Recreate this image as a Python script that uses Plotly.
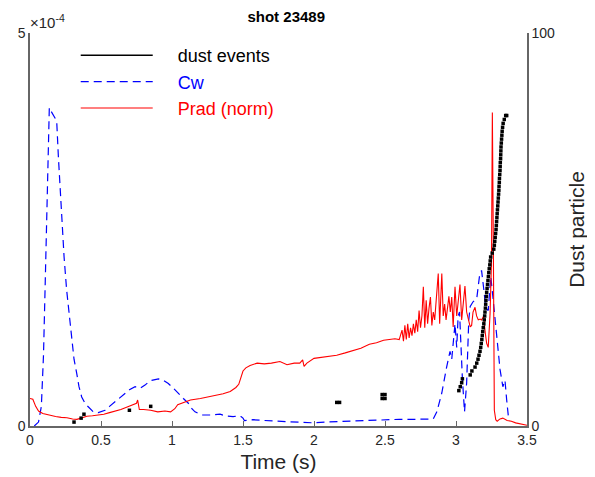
import numpy as np
import plotly.graph_objects as go

# Prad (norm), left axis, values in units of 1e-4
prad_t = [0.00, 0.02, 0.04, 0.06, 0.09, 0.13, 0.18, 0.22, 0.26, 0.30, 0.33, 0.36,
          0.40, 0.44, 0.48, 0.52, 0.56, 0.60, 0.64, 0.68, 0.72, 0.75, 0.758, 0.77,
          0.80, 0.85, 0.90, 0.95, 0.99, 1.02, 1.04, 1.08, 1.13, 1.20, 1.26, 1.31,
          1.36, 1.41, 1.45, 1.47, 1.49, 1.50, 1.52, 1.55, 1.60, 1.65, 1.70, 1.76,
          1.81, 1.86, 1.90, 1.92, 1.93, 1.95, 2.00, 2.05, 2.10, 2.16, 2.22, 2.28,
          2.33, 2.39, 2.44, 2.49, 2.53, 2.57, 2.60, 2.62, 2.63, 2.64, 2.65, 2.66,
          2.67, 2.68, 2.69, 2.70, 2.71, 2.72, 2.73, 2.74, 2.75, 2.76, 2.77, 2.78,
          2.79, 2.80, 2.81, 2.82, 2.83, 2.84, 2.85, 2.86, 2.875, 2.885, 2.90, 2.91,
          2.92, 2.93, 2.95, 2.96, 2.97, 2.98, 2.993, 3.005, 3.015, 3.028, 3.04, 3.05,
          3.063, 3.075, 3.087, 3.10, 3.11, 3.12, 3.134, 3.145, 3.157, 3.17, 3.18, 3.195,
          3.205, 3.216, 3.227, 3.235, 3.24, 3.25, 3.256, 3.263, 3.27, 3.28, 3.29, 3.31,
          3.33, 3.36, 3.39, 3.42, 3.45, 3.47, 3.50]
prad_v = [0.35, 0.34, 0.25, 0.19, 0.16, 0.14, 0.12, 0.11, 0.105, 0.09, 0.085, 0.10,
          0.125, 0.13, 0.14, 0.15, 0.17, 0.19, 0.21, 0.24, 0.27, 0.29, 0.33, 0.21,
          0.21, 0.20, 0.18, 0.19, 0.18, 0.22, 0.27, 0.30, 0.33, 0.35, 0.37, 0.39,
          0.41, 0.44, 0.49, 0.53, 0.63, 0.70, 0.74, 0.77, 0.80, 0.79, 0.80, 0.82,
          0.78, 0.80, 0.80, 0.84, 0.76, 0.80, 0.86, 0.87, 0.88, 0.90, 0.93, 0.96,
          0.99, 1.04, 1.06, 1.09, 1.10, 1.11, 1.10, 1.22, 1.08, 1.28, 1.10, 1.30,
          1.12, 1.25, 1.15, 1.30, 1.18, 1.35, 1.20, 1.47, 1.25, 1.40, 1.77, 1.25,
          1.60, 1.30, 1.50, 1.64, 1.28, 1.45, 1.35, 1.60, 1.94, 1.30, 1.94, 1.40,
          1.55, 1.35, 1.65, 1.45, 1.64, 1.26, 1.77, 1.40, 1.60, 1.80, 1.35, 1.55,
          1.78, 1.45, 1.35, 1.26, 1.28, 1.45, 1.51, 1.40, 1.35, 1.36, 1.35, 1.40,
          1.20, 1.05, 1.00, 1.20, 1.43, 2.10, 3.99, 2.28, 0.20, 0.08, 0.06, 0.09,
          0.10, 0.07, 0.06, 0.04, 0.03, 0.02, 0.01]

# Cw, left axis, units of 1e-4
cw_t = [0.03, 0.06, 0.08, 0.095, 0.106, 0.115, 0.125, 0.132, 0.136, 0.15, 0.164, 0.188,
        0.20, 0.212, 0.223, 0.24, 0.258, 0.276, 0.294, 0.31, 0.329, 0.345, 0.364, 0.39,
        0.41, 0.446, 0.481, 0.528, 0.56, 0.599, 0.63, 0.669, 0.70, 0.74, 0.775, 0.81,
        0.835, 0.857, 0.904, 0.94, 0.974, 1.01, 1.044, 1.08, 1.115, 1.14, 1.162, 1.21,
        1.28, 1.338, 1.373, 1.43, 1.479, 1.50, 1.51, 1.57, 1.65, 1.73, 1.81, 1.90,
        1.995, 2.08, 2.16, 2.25, 2.35, 2.43, 2.51, 2.60, 2.70, 2.75, 2.84, 2.865,
        2.90, 2.934, 2.958, 2.97, 2.98, 2.993, 3.005, 3.015, 3.025, 3.035, 3.045, 3.06,
        3.075, 3.09, 3.10, 3.12, 3.146, 3.165, 3.18, 3.195, 3.21, 3.227, 3.245, 3.26,
        3.286, 3.31, 3.33, 3.345, 3.357, 3.364, 3.37]
cw_v = [0.0, 0.05, 0.25, 0.9, 1.73, 2.4, 3.0, 3.6, 4.05, 4.0, 3.95, 3.88,
        3.42, 3.0, 2.58, 2.15, 1.73, 1.4, 1.09, 0.85, 0.67, 0.5, 0.37, 0.28,
        0.245, 0.18, 0.17, 0.20, 0.25, 0.31, 0.36, 0.41, 0.46, 0.50, 0.48, 0.52,
        0.56, 0.58, 0.60, 0.58, 0.54, 0.48, 0.41, 0.35, 0.29, 0.22, 0.18, 0.14,
        0.14, 0.15, 0.13, 0.12, 0.13, 0.10, 0.07, 0.08, 0.07, 0.06, 0.055, 0.05,
        0.04, 0.05, 0.055, 0.06, 0.067, 0.075, 0.085, 0.085, 0.085, 0.09, 0.09, 0.18,
        0.42, 0.75, 0.95, 0.85, 1.10, 1.30, 1.0, 1.40, 1.45, 1.00, 0.60, 0.18,
        0.55, 1.35, 1.52, 1.58, 1.62, 1.90, 1.98, 1.75, 1.50, 1.47, 1.90, 1.64,
        1.18, 0.72, 0.50, 0.58, 0.33, 0.16, 0.10]

# dust events (cumulative count), right axis
dust_t = [0.31, 0.36, 0.38, 0.70, 0.85, 2.16, 2.18, 2.48, 2.50, 2.48, 2.50,
          3.020, 3.030, 3.040, 3.045, 3.100, 3.112, 3.134, 3.146, 3.155, 3.162,
          3.169, 3.174, 3.178, 3.182, 3.185, 3.188, 3.192, 3.196, 3.199, 3.202,
          3.204, 3.207, 3.209, 3.211, 3.214, 3.216, 3.219, 3.222, 3.225, 3.228,
          3.231, 3.234, 3.238, 3.241, 3.244, 3.255, 3.266, 3.270, 3.273, 3.276,
          3.279, 3.282, 3.284, 3.286, 3.288, 3.290, 3.292, 3.294, 3.296, 3.298,
          3.300, 3.302, 3.303, 3.305, 3.306, 3.308, 3.310, 3.311, 3.312, 3.314,
          3.315, 3.316, 3.317, 3.319, 3.321, 3.323, 3.325, 3.328, 3.332, 3.340,
          3.350, 3.357]
dust_n = [1, 2, 3, 4, 5, 6, 6, 7, 7, 8, 8,
          9, 10, 11, 12, 13, 14, 15, 16, 17, 18,
          19, 20, 21, 22, 23, 24, 25, 26, 27, 28,
          29, 30, 31, 32, 33, 34, 35, 36, 37, 38,
          39, 40, 41, 42, 43, 44, 45, 46, 47, 48,
          49, 50, 51, 52, 53, 54, 55, 56, 57, 58,
          59, 60, 61, 62, 63, 64, 65, 66, 67, 68,
          69, 70, 71, 72, 73, 74, 75, 76, 77, 78,
          79, 79]

x_ticks = [0, 0.5, 1, 1.5, 2, 2.5, 3, 3.5]
x_labels = ["0", "0.5", "1", "1.5", "2", "2.5", "3", "3.5"]

FONT = "Liberation Sans, Arial, sans-serif"
AXIS_GREY = "#666666"
TEXT_GREY = "#262626"
pad = "&nbsp;" * 4

fig = go.Figure()

# legend entry for the dust markers (drawn as a line like the original)
fig.add_trace(go.Scatter(x=[None], y=[None], mode="lines", name=pad + "dust events",
                         line=dict(color="black", width=1.5), legendgroup="a"))
fig.add_trace(go.Scatter(x=dust_t, y=dust_n, mode="markers", yaxis="y2", showlegend=False,
                         marker=dict(symbol="square", size=3.5, color="black",
                                     line=dict(width=0))))
fig.add_trace(go.Scatter(x=cw_t, y=np.array(cw_v) * 1e-4, mode="lines",
                         name=pad + "<span style='color:#0000ff'>Cw</span>",
                         line=dict(color="#0000ff", width=1.2, dash="8px,5px"),
                         legendgroup="b"))
fig.add_trace(go.Scatter(x=prad_t, y=np.array(prad_v) * 1e-4, mode="lines",
                         name=pad + "<span style='color:#ff0000'>Prad (norm)</span>",
                         line=dict(color="#ff0000", width=1.1), legendgroup="c"))

# the page adds an 8px body margin, so the figure is 8px smaller than the window
fig.update_layout(
    width=587, height=469,
    margin=dict(l=22, r=68, t=25, b=51),
    paper_bgcolor="white", plot_bgcolor="white",
    font=dict(family=FONT, size=14, color=TEXT_GREY),
    title=dict(text="<b>shot 23489</b>", x=0.474, xref="container", xanchor="center",
               y=0.981, yref="container", yanchor="middle",
               font=dict(size=15, color="black")),
    showlegend=True,
    legend=dict(x=0.092, y=0.99, xanchor="left", yanchor="top", bgcolor="rgba(0,0,0,0)",
                font=dict(size=18, color="black"), itemwidth=72, tracegroupgap=4,
                traceorder="normal"),
    xaxis=dict(range=[0, 3.5], tickvals=x_ticks, ticktext=x_labels, automargin=False,
               ticks="inside", ticklen=5, tickcolor=AXIS_GREY,
               showline=True, linecolor=AXIS_GREY, linewidth=1.5,
               showgrid=False, zeroline=False,
               title=dict(text="Time (s)", font=dict(size=21, color=TEXT_GREY), standoff=8)),
    yaxis=dict(range=[0, 5e-4], tickvals=[0, 5e-4], ticktext=["0", "5"], automargin=False,
               ticks="inside", ticklen=5, tickcolor=AXIS_GREY,
               showline=True, linecolor=AXIS_GREY, linewidth=1.5,
               showgrid=False, zeroline=False),
    yaxis2=dict(range=[0, 100], tickvals=[0, 100], ticktext=["0", "100"], automargin=False,
                overlaying="y", side="right",
                ticks="inside", ticklen=5, tickcolor=AXIS_GREY,
                showline=True, linecolor=AXIS_GREY, linewidth=1.5,
                showgrid=False, zeroline=False,
                title=dict(text="Dust particle", font=dict(size=21, color=TEXT_GREY), standoff=15)),
)

fig.add_annotation(text="×10<sup>-4</sup>", xref="paper", yref="paper", x=-0.004, y=1.0,
                   xanchor="left", yanchor="bottom", showarrow=False,
                   font=dict(size=15, color=TEXT_GREY))

fig.write_html("out.html")
